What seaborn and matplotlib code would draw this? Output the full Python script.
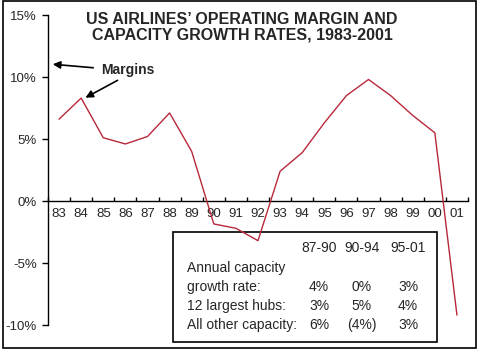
import numpy as np
import pandas as pd
import seaborn as sns
import matplotlib
matplotlib.use("Agg")
import matplotlib.pyplot as plt
from matplotlib.patches import Rectangle
from matplotlib.ticker import FuncFormatter

# Operating margin by year (%)
years = ["83", "84", "85", "86", "87", "88", "89", "90", "91", "92",
         "93", "94", "95", "96", "97", "98", "99", "00", "01"]
margins = [6.6, 8.3, 5.1, 4.6, 5.2, 7.1, 4.0, -1.85, -2.2, -3.2,
           2.4, 3.9, 6.3, 8.5, 9.8, 8.5, 6.9, 5.5, -9.2]

# capacity table
periods = ["87-90", "90-94", "95-01"]
row_labels = ["growth rate:", "12 largest hubs:", "All other capacity:"]
growth_rate = ["4%", "0%", "3%"]
largest_hubs = ["3%", "5%", "4%"]
other_capacity = ["6%", "(4%)", "3%"]

sns.set_style("white")
plt.rcParams['font.family'] = ['Liberation Sans', 'DejaVu Sans']

W, H = 481, 352
def px(x, y):
    # pixel position -> figure fraction
    return x / W, 1 - y / H

df = pd.DataFrame({"pos": np.arange(len(years)), "margin": margins})

fig = plt.figure(figsize=(W / 100, H / 100), dpi=100)
ax = fig.add_axes([48 / W, 1 - 325 / H, 420 / W, 310 / H])

sns.lineplot(data=df, x="pos", y="margin", color="#b8283a", linewidth=1.0, ax=ax, zorder=5)

ax.set_xlim(-0.5, len(years) - 0.5)
ax.set_ylim(-10, 15)
ax.set_xlabel("")
ax.set_ylabel("")

for s in ["top", "right"]:
    ax.spines[s].set_visible(False)
ax.spines["bottom"].set_position(("data", 0))
ax.spines["bottom"].set_bounds(-0.5, len(years) - 0.5)
for s in ["left", "bottom"]:
    ax.spines[s].set_color("black")
    ax.spines[s].set_linewidth(1.0)

# ticks between categories, labels at centres
ax.set_xticks(np.arange(-0.5, len(years), 1.0))
ax.set_xticklabels([])
ax.tick_params(axis="x", which="major", direction="in", length=3, width=1, bottom=True, color="black")
ax.set_xticks(np.arange(len(years)), minor=True)
ax.set_xticklabels(years, minor=True)
ax.tick_params(axis="x", which="minor", length=0, pad=5, labelsize=9.5)

ax.set_yticks([-10, -5, 0, 5, 10, 15])
ax.yaxis.set_major_formatter(FuncFormatter(lambda v, p: "%d%%" % v))
ax.tick_params(axis="y", direction="out", length=4, width=1, left=True, color="black",
               labelsize=9.5, pad=4)

tf = fig.transFigure
ax.text(*px(242, 27), "US AIRLINES\u2019 OPERATING MARGIN AND\nCAPACITY GROWTH RATES, 1983-2001",
        transform=tf, ha="center", va="center", fontsize=11.5, fontweight="bold", linespacing=1.0)

# Margins annotation with two arrows
ax.text(*px(101, 70), "Margins", transform=tf, ha="left", va="center", fontsize=10, fontweight="bold")
arrow = dict(arrowstyle="-|>", color="black", lw=1.2, mutation_scale=11)
ax.annotate("", xy=px(50, 64), xytext=px(96, 68),
            xycoords="figure fraction", textcoords="figure fraction", arrowprops=arrow)
ax.annotate("", xy=px(83, 99), xytext=px(120, 79),
            xycoords="figure fraction", textcoords="figure fraction", arrowprops=arrow)

# table box (beneath the line)
bx0, by0 = px(173, 342)
bx1, by1 = px(437, 232)
ax.add_patch(Rectangle((bx0, by0), bx1 - bx0, by1 - by0, transform=tf, clip_on=False,
                       facecolor="white", edgecolor="black", lw=1.2, zorder=2))

col_x = [319, 362, 408]
fs = 10
for cx, p in zip(col_x, periods):
    ax.text(*px(cx, 248), p, transform=tf, ha="center", va="center", fontsize=fs, zorder=4)
ax.text(*px(187, 268), "Annual capacity", transform=tf, ha="left", va="center", fontsize=fs, zorder=4)
row_y = [287, 306, 325]
for ry, lab, vals in zip(row_y, row_labels, [growth_rate, largest_hubs, other_capacity]):
    ax.text(*px(187, ry), lab, transform=tf, ha="left", va="center", fontsize=fs, zorder=4)
    for cx, v in zip(col_x, vals):
        ax.text(*px(cx, ry), v, transform=tf, ha="center", va="center", fontsize=fs, zorder=4)

# outer frame
fx0, fy0 = px(3, 348)
fx1, fy1 = px(476, 1)
fig.add_artist(Rectangle((fx0, fy0), fx1 - fx0, fy1 - fy0, transform=tf,
                         facecolor="none", edgecolor="black", lw=1.2))

plt.savefig("out.png", dpi=100)
